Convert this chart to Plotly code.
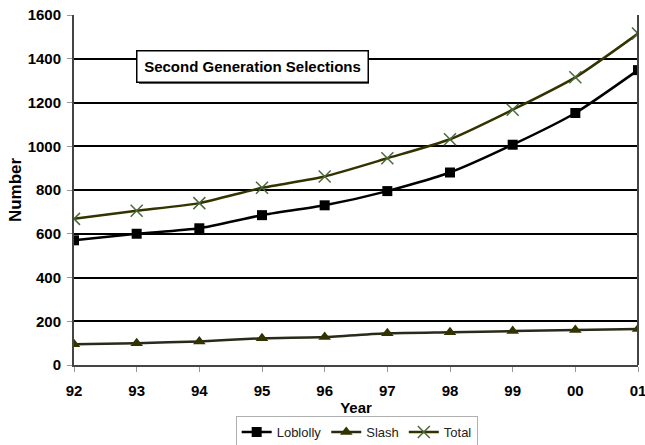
import plotly.graph_objects as go

years = ["92", "93", "94", "95", "96", "97", "98", "99", "00", "01"]
loblolly = [570, 600, 625, 685, 730, 795, 880, 1007, 1152, 1348]
slash = [95, 100, 108, 122, 128, 145, 150, 155, 160, 165]
total = [668, 705, 740, 810, 862, 945, 1032, 1167, 1315, 1515]

x = list(range(len(years)))

fig = go.Figure()
fig.add_trace(go.Scatter(x=x, y=loblolly, name="Loblolly", mode="lines+markers",
                         line=dict(color="black", width=2.5, shape="spline", smoothing=0.6),
                         marker=dict(symbol="square", size=10, color="black")))
fig.add_trace(go.Scatter(x=x, y=slash, name="Slash", mode="lines+markers",
                         line=dict(color="#2a2a1a", width=2.5, shape="spline", smoothing=0.6),
                         marker=dict(symbol="triangle-up", size=11, color="#333300")))
fig.add_trace(go.Scatter(x=x, y=total, name="Total", mode="lines+markers",
                         line=dict(color="#333300", width=2.5, shape="spline", smoothing=0.6),
                         marker=dict(symbol="x-thin", size=12, color="#4a6a3a",
                                     line=dict(color="#4a6a3a", width=1.5))))

fig.update_layout(
    width=645, height=445,
    margin=dict(l=74, r=7, t=15, b=80),
    paper_bgcolor="white", plot_bgcolor="white",
    font=dict(family="Arial, Liberation Sans", color="black", size=15),
    showlegend=True,
    legend=dict(orientation="h", x=0.553, xref="container", xanchor="center",
                y=0.029, yref="container", yanchor="middle",
                bordercolor="#b0b0b0", borderwidth=1,
                font=dict(size=13, color="#222"), itemwidth=30,
                tracegroupgap=0),
    xaxis=dict(
        tickmode="array", tickvals=x, ticktext=["<b>%s</b>" % y for y in years], range=[0, 9],
        showgrid=False, showline=True, linecolor="#444", linewidth=2,
        ticks="outside", ticklen=5, tickcolor="#999", ticklabelstandoff=6,
        ticklabeloverflow="allow", automargin=False,
        tickfont=dict(size=15, color="black"),
        title=dict(text="<b>Year</b>", font=dict(size=15), standoff=4),
        zeroline=False,
    ),
    yaxis=dict(
        range=[0, 1600], dtick=200, showgrid=True, gridcolor="black", gridwidth=2,
        showline=True, linecolor="#444", linewidth=2, automargin=False,
        ticks="outside", ticklen=5, tickcolor="#999", ticklabelstandoff=3,
        tickfont=dict(size=15, color="black"),
        tickprefix="<b>", ticksuffix="</b>",
        title=dict(text="<b>Number</b>", font=dict(size=17), standoff=2),
        zeroline=False,
    ),
)

# right border line
fig.add_shape(type="line", xref="paper", yref="paper", x0=1, x1=1, y0=0, y1=1,
              line=dict(color="#444", width=2))

# box shadow
fig.add_shape(type="rect", xref="paper", yref="paper",
              x0=(139 - 74) / 564, x1=(369 - 74) / 564,
              y0=(365 - 84) / 350, y1=(365 - 54) / 350,
              line=dict(width=0), fillcolor="#555", layer="above")

fig.add_annotation(
    xref="paper", yref="paper", x=(136 - 74) / 564, y=(365 - 66.5) / 350,
    xanchor="left", yanchor="middle",
    text="<b>Second Generation Selections</b>", showarrow=False,
    font=dict(size=15, color="black"), bgcolor="white",
    bordercolor="black", borderwidth=1.5, borderpad=2, width=226, height=26,
)

fig.write_html("out.html")
